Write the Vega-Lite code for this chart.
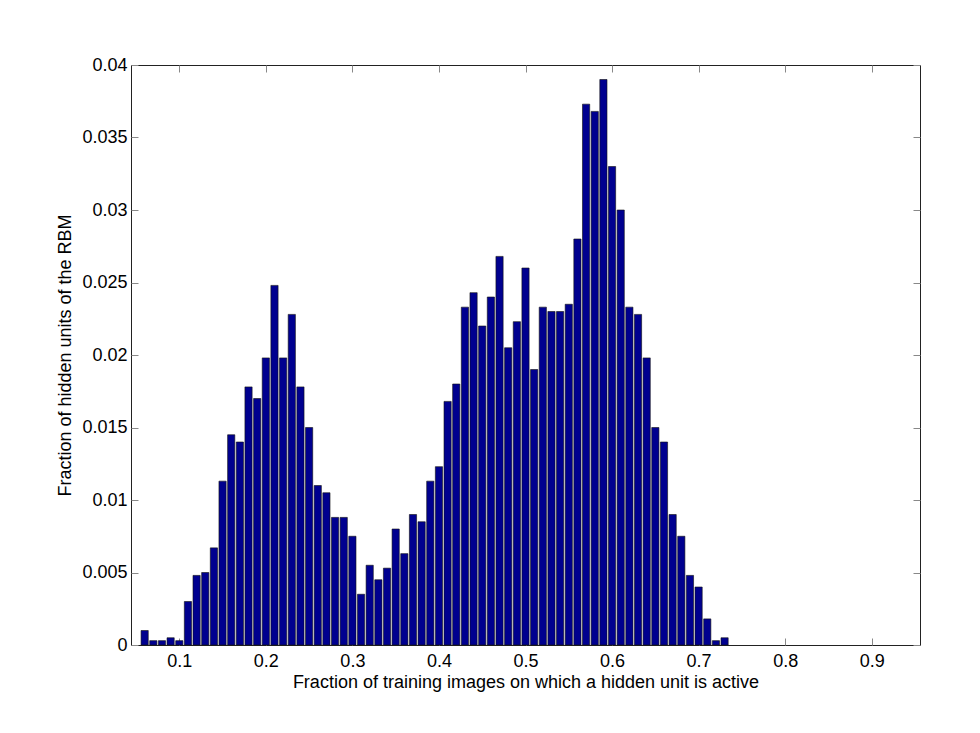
{
  "$schema": "https://vega.github.io/schema/vega-lite/v6.json",
  "autosize": "none",
  "width": 789,
  "height": 580,
  "padding": {"left": 131, "top": 65, "right": 60, "bottom": 88},
  "background": "white",
  "config": {
    "view": {"stroke": "#222222", "strokeWidth": 1},
    "font": "Liberation Sans",
    "axis": {
      "labelFont": "Liberation Sans",
      "titleFont": "Liberation Sans",
      "labelFontSize": 18,
      "titleFontSize": 18,
      "titleFontWeight": "normal",
      "labelColor": "black",
      "titleColor": "black",
      "grid": false,
      "domain": false,
      "tickColor": "#888888",
      "tickSize": -7,
      "tickWidth": 1
    }
  },
  "data": {
    "values": [
      {"x": 0.06, "f": 0.001},
      {"x": 0.07, "f": 0.0003},
      {"x": 0.08, "f": 0.0003},
      {"x": 0.09, "f": 0.0005},
      {"x": 0.10, "f": 0.0003},
      {"x": 0.11, "f": 0.003},
      {"x": 0.12, "f": 0.0048},
      {"x": 0.13, "f": 0.005},
      {"x": 0.14, "f": 0.0067},
      {"x": 0.15, "f": 0.0113},
      {"x": 0.16, "f": 0.0145},
      {"x": 0.17, "f": 0.014},
      {"x": 0.18, "f": 0.0178},
      {"x": 0.19, "f": 0.017},
      {"x": 0.20, "f": 0.0198},
      {"x": 0.21, "f": 0.0248},
      {"x": 0.22, "f": 0.0198},
      {"x": 0.23, "f": 0.0228},
      {"x": 0.24, "f": 0.0178},
      {"x": 0.25, "f": 0.015},
      {"x": 0.26, "f": 0.011},
      {"x": 0.27, "f": 0.0105},
      {"x": 0.28, "f": 0.0088},
      {"x": 0.29, "f": 0.0088},
      {"x": 0.30, "f": 0.0075},
      {"x": 0.31, "f": 0.0035},
      {"x": 0.32, "f": 0.0055},
      {"x": 0.33, "f": 0.0045},
      {"x": 0.34, "f": 0.0053},
      {"x": 0.35, "f": 0.008},
      {"x": 0.36, "f": 0.0063},
      {"x": 0.37, "f": 0.009},
      {"x": 0.38, "f": 0.0085},
      {"x": 0.39, "f": 0.0113},
      {"x": 0.40, "f": 0.0123},
      {"x": 0.41, "f": 0.0168},
      {"x": 0.42, "f": 0.018},
      {"x": 0.43, "f": 0.0233},
      {"x": 0.44, "f": 0.0243},
      {"x": 0.45, "f": 0.022},
      {"x": 0.46, "f": 0.024},
      {"x": 0.47, "f": 0.0268},
      {"x": 0.48, "f": 0.0205},
      {"x": 0.49, "f": 0.0223},
      {"x": 0.50, "f": 0.026},
      {"x": 0.51, "f": 0.019},
      {"x": 0.52, "f": 0.0233},
      {"x": 0.53, "f": 0.023},
      {"x": 0.54, "f": 0.023},
      {"x": 0.55, "f": 0.0235},
      {"x": 0.56, "f": 0.028},
      {"x": 0.57, "f": 0.0373},
      {"x": 0.58, "f": 0.0368},
      {"x": 0.59, "f": 0.039},
      {"x": 0.60, "f": 0.033},
      {"x": 0.61, "f": 0.030},
      {"x": 0.62, "f": 0.0233},
      {"x": 0.63, "f": 0.0228},
      {"x": 0.64, "f": 0.0198},
      {"x": 0.65, "f": 0.015},
      {"x": 0.66, "f": 0.014},
      {"x": 0.67, "f": 0.009},
      {"x": 0.68, "f": 0.0075},
      {"x": 0.69, "f": 0.0048},
      {"x": 0.70, "f": 0.004},
      {"x": 0.71, "f": 0.0018},
      {"x": 0.72, "f": 0.0003},
      {"x": 0.73, "f": 0.0005}
    ]
  },
  "resolve": {"axis": {"x": "independent", "y": "independent"}},
  "layer": [
    {
      "mark": {"type": "bar", "color": "#00008F", "stroke": "#111111", "strokeWidth": 0.6, "size": 7.2, "orient": "vertical"},
      "encoding": {
        "x": {
          "field": "x", "type": "quantitative",
          "scale": {"domain": [0.05, 0.95], "nice": false, "zero": false},
          "axis": {
            "orient": "bottom",
            "values": [0.1, 0.2, 0.3, 0.4, 0.5, 0.6, 0.7, 0.8, 0.9],
            "format": ".1f",
            "labelPadding": 14,
            "title": "Fraction of training images on which a hidden unit is active",
            "titlePadding": 3,
            "titleBaseline": "top"
          }
        },
        "y": {
          "field": "f", "type": "quantitative",
          "scale": {"domain": [0, 0.04], "nice": false},
          "axis": {
            "orient": "left",
            "values": [0, 0.005, 0.01, 0.015, 0.02, 0.025, 0.03, 0.035, 0.04],
            "format": ".3~f",
            "labelPadding": 11,
            "title": "Fraction of hidden units of the RBM",
            "titlePadding": 7
          }
        }
      }
    },
    {
      "mark": {"type": "bar", "opacity": 0, "size": 1},
      "encoding": {
        "x": {
          "field": "x", "type": "quantitative",
          "scale": {"domain": [0.05, 0.95], "nice": false, "zero": false},
          "axis": {"orient": "top", "values": [0.1, 0.2, 0.3, 0.4, 0.5, 0.6, 0.7, 0.8, 0.9], "labels": false, "title": null}
        },
        "y": {
          "field": "f", "type": "quantitative",
          "scale": {"domain": [0, 0.04], "nice": false},
          "axis": {"orient": "right", "values": [0, 0.005, 0.01, 0.015, 0.02, 0.025, 0.03, 0.035, 0.04], "labels": false, "title": null}
        }
      }
    }
  ]
}
